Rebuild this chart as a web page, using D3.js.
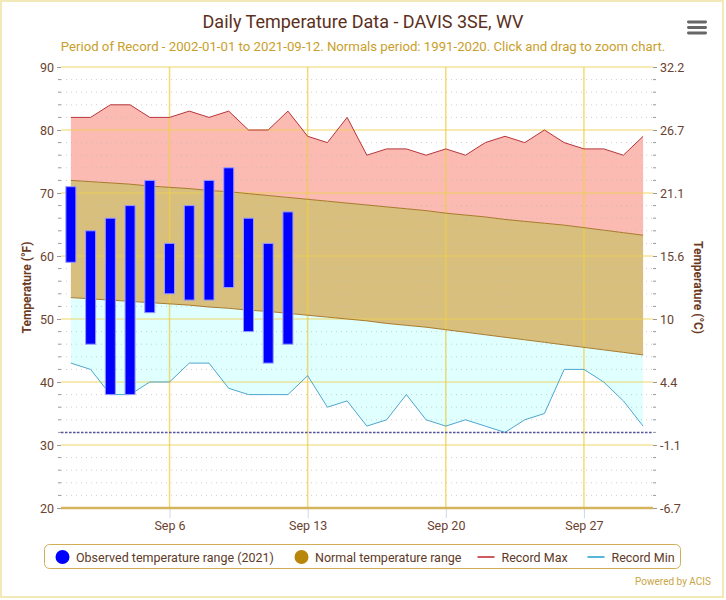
<!DOCTYPE html>
<html>
<head>
<meta charset="utf-8">
<script src="https://cdn.jsdelivr.net/npm/d3@7"></script>
<style>
  html, body { margin: 0; padding: 0; background: #fff; }
  svg { display: block; font-family: Roboto, "Noto Sans", sans-serif; }
</style>
</head>
<body>
<div id="chart"></div>
<script>
// days of September 2021
const days = [1, 2, 3, 4, 5, 6, 7, 8, 9, 10, 11, 12, 13, 14, 15, 16, 17, 18, 19, 20,
  21, 22, 23, 24, 25, 26, 27, 28, 29, 30];
const recordMax = [82, 82, 84, 84, 82, 82, 83, 82, 83, 80, 80, 83, 79, 78, 82, 76, 77, 77, 76, 77,
  76, 78, 79, 78, 80, 78, 77, 77, 76, 79];
const recordMin = [43, 42, 38, 38, 40, 40, 43, 43, 39, 38, 38, 38, 41, 36, 37, 33, 34, 38, 34, 33,
  34, 33, 32, 34, 35, 42, 42, 40, 37, 33];
const normalMax = [72.0, 71.8, 71.6, 71.4, 71.1, 70.9, 70.7, 70.4, 70.2, 69.9, 69.6, 69.3, 69.0, 68.7, 68.4,
  68.1, 67.8, 67.5, 67.2, 66.8, 66.5, 66.2, 65.8, 65.5, 65.2, 64.9, 64.5, 64.1, 63.7, 63.3];
const normalMin = [53.4, 53.2, 53.0, 52.8, 52.6, 52.4, 52.2, 51.9, 51.7, 51.4, 51.2, 50.9, 50.6, 50.3, 50.0,
  49.7, 49.3, 49.0, 48.7, 48.3, 47.9, 47.5, 47.1, 46.7, 46.3, 45.9, 45.5, 45.1, 44.7, 44.3];
// observed 2021 (only Sep 1 - 12)
const obsHigh = [71, 64, 66, 68, 72, 62, 68, 72, 74, 66, 62, 67];
const obsLow = [59, 46, 38, 38, 51, 54, 53, 53, 55, 48, 43, 46];
const yTicksF = [20, 30, 40, 50, 60, 70, 80, 90];
const xTickDays = [6, 13, 20, 27];
const freezing = 32;

const W = 726, H = 600;
const plot = { left: 61, right: 653, top: 67, bottom: 508 };

const svg = d3.select("#chart").append("svg")
  .attr("width", W).attr("height", H);

const day = d => new Date(2021, 8, d);
const x = d3.scaleTime()
  .domain([new Date(2021, 8, 0, 12), new Date(2021, 8, 30, 12)])
  .range([plot.left, plot.right]);
const y = d3.scaleLinear().domain([20, 90]).range([plot.bottom, plot.top]);

const rows = days.map((d, i) => ({
  date: day(d), rmax: recordMax[i], rmin: recordMin[i], nmax: normalMax[i], nmin: normalMin[i]
}));
const obs = obsHigh.map((h, i) => ({ date: day(days[i]), hi: h, lo: obsLow[i] }));

// frame
svg.append("rect")
  .attr("x", 1).attr("y", 1).attr("width", 722).attr("height", 596)
  .attr("fill", "none").attr("stroke", "#f3e8b8").attr("stroke-width", 2);

// titles
svg.append("text")
  .attr("x", 363).attr("y", 28).attr("text-anchor", "middle")
  .attr("font-size", 18).attr("fill", "#5c2f1c")
  .text("Daily Temperature Data - DAVIS 3SE, WV");
svg.append("text")
  .attr("x", 363).attr("y", 51).attr("text-anchor", "middle")
  .attr("font-size", 13.2).attr("fill", "#c9a02c")
  .text("Period of Record - 2002-01-01 to 2021-09-12. Normals period: 1991-2020. Click and drag to zoom chart.");

// menu icon
svg.append("g").selectAll("rect").data([20.5, 26, 31.6]).join("rect")
  .attr("x", 687).attr("y", d => d).attr("width", 20).attr("height", 2.9)
  .attr("rx", 1.4).attr("fill", "#666");

// areas
const area = (a, b) => d3.area().x(d => x(d.date)).y0(d => y(d[a])).y1(d => y(d[b]));
const g = svg.append("g");
g.append("path").datum(rows).attr("d", area("nmax", "rmax")).attr("fill", "#fbbab2");
g.append("path").datum(rows).attr("d", area("nmin", "nmax")).attr("fill", "#d9bf7e");
g.append("path").datum(rows).attr("d", area("rmin", "nmin")).attr("fill", "#e0ffff");

// minor grid (every 2 F)
const minor = d3.range(20, 91, 2).filter(v => v % 10 !== 0);
svg.append("g").selectAll("line").data(minor).join("line")
  .attr("x1", plot.left).attr("x2", plot.right)
  .attr("y1", d => y(d)).attr("y2", d => y(d))
  .attr("stroke", "#bbb").attr("stroke-opacity", 0.7).attr("stroke-dasharray", "1,4");

// major grid
svg.append("g").selectAll("line").data(yTicksF.filter(v => v !== 20)).join("line")
  .attr("x1", plot.left).attr("x2", plot.right)
  .attr("y1", d => y(d)).attr("y2", d => y(d))
  .attr("stroke", "#eccf55").attr("stroke-opacity", 0.6).attr("stroke-width", 1.5);
svg.append("g").selectAll("line").data(xTickDays).join("line")
  .attr("x1", d => x(day(d))).attr("x2", d => x(day(d)))
  .attr("y1", plot.top).attr("y2", plot.bottom)
  .attr("stroke", "#efcf45").attr("stroke-opacity", 0.75).attr("stroke-width", 1.5);

// normal edges and record lines
const line = key => d3.line().x(d => x(d.date)).y(d => y(d[key]));
svg.append("path").datum(rows).attr("d", line("nmax"))
  .attr("fill", "none").attr("stroke", "#a87a2a").attr("stroke-width", 1);
svg.append("path").datum(rows).attr("d", line("nmin"))
  .attr("fill", "none").attr("stroke", "#a87a2a").attr("stroke-width", 1);
svg.append("path").datum(rows).attr("d", line("rmax"))
  .attr("fill", "none").attr("stroke", "#b8343a").attr("stroke-width", 1);
svg.append("path").datum(rows).attr("d", line("rmin"))
  .attr("fill", "none").attr("stroke", "#4ea6cf").attr("stroke-width", 1);

// freezing line
svg.append("line")
  .attr("x1", plot.left).attr("x2", plot.right)
  .attr("y1", y(freezing)).attr("y2", y(freezing))
  .attr("stroke", "#55559f").attr("stroke-width", 1.5).attr("stroke-dasharray", "2.5,1.5");

// observed bars
const bw = 10;
svg.append("g").selectAll("rect").data(obs).join("rect")
  .attr("x", d => x(d.date) - bw / 2).attr("width", bw)
  .attr("y", d => y(d.hi)).attr("height", d => y(d.lo) - y(d.hi))
  .attr("fill", "#0000ff").attr("stroke", "#9a9aff").attr("stroke-width", 1);

// left axis
const tickColor = "#6b4230";
const left = svg.append("g").attr("transform", `translate(${plot.left},0)`)
  .call(d3.axisLeft(y).tickValues(yTicksF).tickSize(4).tickPadding(3))
  .call(a => a.select(".domain").remove());
left.selectAll(".tick line").attr("stroke", "#999");
left.selectAll("text").attr("font-size", 12.5).attr("fill", tickColor)
  .attr("font-family", "Roboto, sans-serif");
svg.append("g").selectAll("line").data(minor).join("line")
  .attr("x1", plot.left - 3).attr("x2", plot.left)
  .attr("y1", d => y(d)).attr("y2", d => y(d)).attr("stroke", "#999");

// right axis (Celsius)
const toC = f => Math.round((f - 32) * 5 / 9 * 10) / 10;
const right = svg.append("g").attr("transform", `translate(${plot.right},0)`)
  .call(d3.axisRight(y).tickValues(yTicksF).tickFormat(f => toC(f)).tickSize(4).tickPadding(3))
  .call(a => a.select(".domain").remove());
right.selectAll(".tick line").attr("stroke", "#999");
right.selectAll("text").attr("font-size", 12.5).attr("fill", tickColor)
  .attr("font-family", "Roboto, sans-serif");
svg.append("g").selectAll("line").data(minor).join("line")
  .attr("x1", plot.right).attr("x2", plot.right + 3)
  .attr("y1", d => y(d)).attr("y2", d => y(d)).attr("stroke", "#999");

// bottom axis
const bottom = svg.append("g").attr("transform", `translate(0,${plot.bottom})`)
  .call(d3.axisBottom(x).tickValues(xTickDays.map(day))
    .tickFormat(d3.timeFormat("Sep %-d")).tickSize(10).tickPadding(3));
bottom.select(".domain").remove();
bottom.selectAll(".tick line").attr("stroke", "#ccd6eb");
bottom.selectAll("text").attr("font-size", 12.5).attr("fill", tickColor)
  .attr("font-family", "Roboto, sans-serif");
svg.append("line")
  .attr("x1", plot.left).attr("x2", plot.right)
  .attr("y1", plot.bottom).attr("y2", plot.bottom)
  .attr("stroke", "#d4b55c").attr("stroke-width", 2.5);

// axis titles
svg.append("text")
  .attr("transform", `translate(31,${(plot.top + plot.bottom) / 2}) rotate(-90)`)
  .attr("text-anchor", "middle").attr("font-size", 12).attr("font-weight", "bold")
  .attr("fill", "#6b3a1f").text("Temperature (°F)");
svg.append("text")
  .attr("transform", `translate(694,${(plot.top + plot.bottom) / 2}) rotate(90)`)
  .attr("text-anchor", "middle").attr("font-size", 12).attr("font-weight", "bold")
  .attr("fill", "#6b3a1f").text("Temperature (°C)");

// legend
const legend = svg.append("g");
legend.append("rect")
  .attr("x", 44.5).attr("y", 544.5).attr("width", 636).attr("height", 24).attr("rx", 5)
  .attr("fill", "#fff").attr("stroke", "#cfae55").attr("stroke-width", 1);
const items = [
  { label: "Observed temperature range (2021)", type: "dot", color: "#0000ff", x: 62.5 },
  { label: "Normal temperature range", type: "dot", color: "#b8860b", x: 301.5 },
  { label: "Record Max", type: "line", color: "#d05a60", x: 477.5 },
  { label: "Record Min", type: "line", color: "#5ab4d8", x: 587.5 }
];
const li = legend.selectAll("g").data(items).join("g")
  .attr("transform", d => `translate(${d.x},557)`);
li.filter(d => d.type === "dot").append("circle").attr("r", 7).attr("fill", d => d.color);
li.filter(d => d.type === "line").append("line")
  .attr("x1", 0).attr("x2", 17).attr("stroke", d => d.color).attr("stroke-width", 2);
li.append("text")
  .attr("x", d => d.type === "dot" ? 13.5 : 24).attr("y", 4.5)
  .attr("font-size", 12.5).attr("fill", "#5e3a28").text(d => d.label);

// credit
svg.append("text")
  .attr("x", 711).attr("y", 585).attr("text-anchor", "end")
  .attr("font-size", 10).attr("fill", "#c9a545").text("Powered by ACIS");
</script>
</body>
</html>
